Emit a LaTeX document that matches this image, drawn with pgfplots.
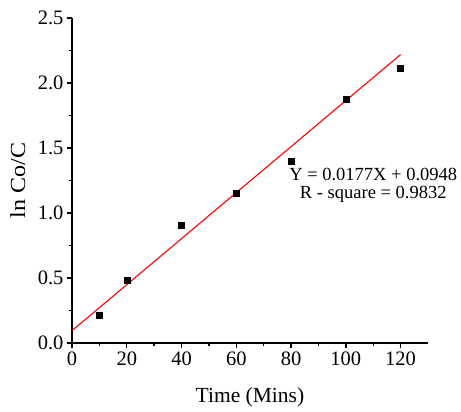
\documentclass[border=0pt]{standalone}
\usepackage{fontspec}
\setmainfont{Liberation Serif}
\usepackage{graphicx}
\usepackage{pgfplots}
\pgfplotsset{compat=1.18}
\begin{document}
\begin{tikzpicture}
\useasboundingbox (-72pt,-69pt) rectangle (389pt,343pt);
\begin{axis}[
  scale only axis,
  width=356pt, height=325pt,
  xmin=0, xmax=130, ymin=0, ymax=2.5,
  axis lines=left,
  axis line style={-, line width=2.2pt},
  xtick={0,20,40,60,80,100,120},
  ytick={0,0.5,1.0,1.5,2.0,2.5},
  minor tick num=1,
  tick align=outside,
  major tick length=5pt, minor tick length=3pt,
  every tick/.style={black, line width=1.4pt},
  /pgf/number format/assume math mode=true,
  yticklabel style={/pgf/number format/.cd, fixed, fixed zerofill, precision=1},
  ticklabel style={font=\fontsize{20.5}{24}\selectfont},
  xlabel={Time (Mins)},
  ylabel={\scalebox{1.12}[1]{ln Co/C}},
  label style={font=\fontsize{21.5}{26}\selectfont},
  xlabel style={at={(axis description cs:0.5,-0.168)}, anchor=center},
  ylabel style={at={(axis description cs:-0.152,0.5)}, anchor=center},
  clip=false,
]
\addplot[red, line width=1.1pt] coordinates {(0,0.0948) (120,2.2188)};
\addplot[only marks, mark=square*, mark size=3pt, black] coordinates {
  (10,0.215) (20,0.485) (40,0.908) (60,1.154) (80,1.395) (100,1.875) (120,2.113)
};
\node[font=\fontsize{18.5}{22}\selectfont, anchor=center] at (axis cs:110,1.30) {Y = 0.0177X + 0.0948};
\node[font=\fontsize{18.5}{22}\selectfont, anchor=center] at (axis cs:110,1.14) {R - square = 0.9832};
\end{axis}
\end{tikzpicture}
\end{document}
